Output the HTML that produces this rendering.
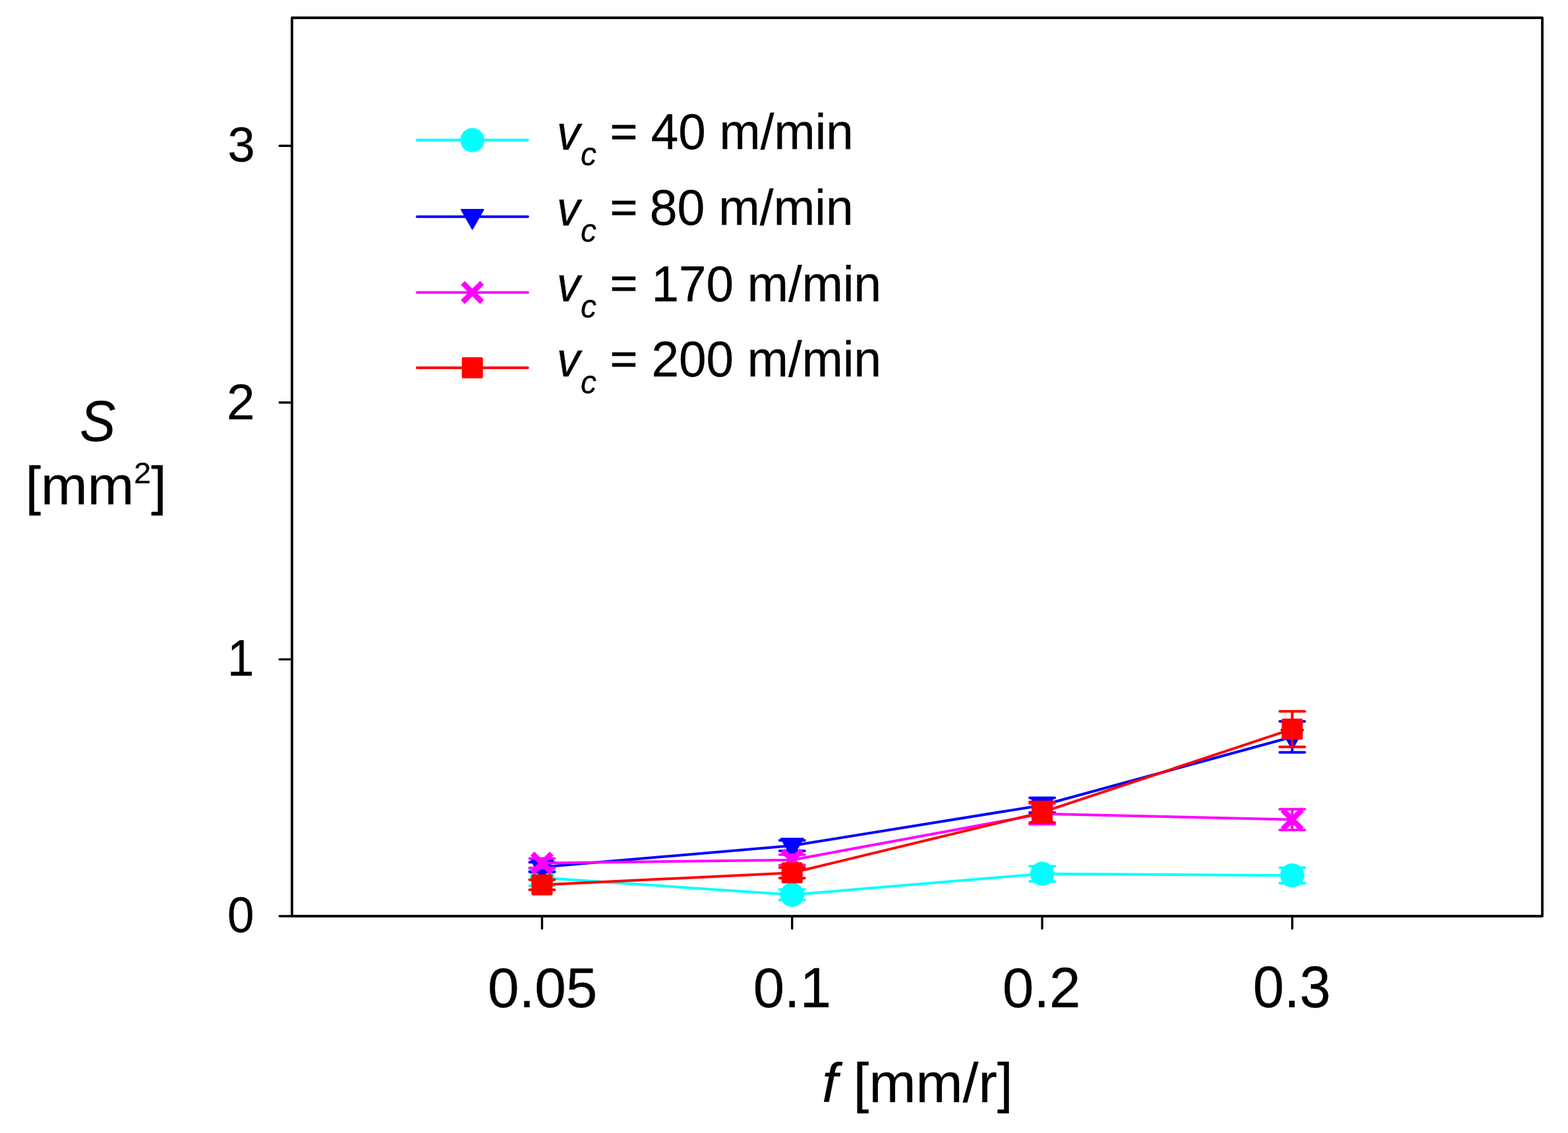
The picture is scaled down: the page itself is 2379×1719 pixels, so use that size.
<!DOCTYPE html>
<html><head><meta charset="utf-8"><title>S vs f</title>
<style>html,body{margin:0;padding:0;background:#fff;} svg{display:block;} text{font-family:'Liberation Sans', Arial, sans-serif;fill:#000;stroke:#000;stroke-width:0.3px;}</style>
</head><body>
<svg width="2379" height="1719" viewBox="0 0 2379 1719">
<rect width="2379" height="1719" fill="#fff"/>
<rect x="443" y="27" width="1897" height="1363" fill="none" stroke="#000" stroke-width="3.8" stroke-linejoin="round"/>
<line x1="424.2" y1="1390.0" x2="443" y2="1390.0" stroke="#000" stroke-width="3.4" stroke-linecap="round"/>
<text transform="translate(345.10,1413.78) scale(0.9719,1.0046)" font-size="75">0</text>
<line x1="424.2" y1="1000.4" x2="443" y2="1000.4" stroke="#000" stroke-width="3.4" stroke-linecap="round"/>
<text transform="translate(345.10,1024.64) scale(0.9719,1.0331)" font-size="75">1</text>
<line x1="424.2" y1="610.8" x2="443" y2="610.8" stroke="#000" stroke-width="3.4" stroke-linecap="round"/>
<text transform="translate(343.99,635.96) scale(1.0244,1.0098)" font-size="75">2</text>
<line x1="424.2" y1="221.2" x2="443" y2="221.2" stroke="#000" stroke-width="3.4" stroke-linecap="round"/>
<text transform="translate(345.49,244.89) scale(0.9878,1.0002)" font-size="75">3</text>
<line x1="822.4" y1="1390" x2="822.4" y2="1408.8" stroke="#000" stroke-width="3.4" stroke-linecap="round"/>
<text transform="translate(739.97,1527.91) scale(0.9941,0.9962)" font-size="86">0.05</text>
<line x1="1201.8" y1="1390" x2="1201.8" y2="1408.8" stroke="#000" stroke-width="3.4" stroke-linecap="round"/>
<text transform="translate(1142.65,1527.95) scale(0.9915,0.9967)" font-size="86">0.1</text>
<line x1="1581.2" y1="1390" x2="1581.2" y2="1408.8" stroke="#000" stroke-width="3.4" stroke-linecap="round"/>
<text transform="translate(1521.01,1527.83) scale(0.9915,0.9994)" font-size="86">0.2</text>
<line x1="1960.6" y1="1390" x2="1960.6" y2="1408.8" stroke="#000" stroke-width="3.4" stroke-linecap="round"/>
<text transform="translate(1901.03,1527.76) scale(0.9877,1.0259)" font-size="86">0.3</text>
<text transform="translate(120.90,668.90) scale(0.9464,1.0080)" font-size="86" font-style="italic">S</text>
<text transform="translate(38.44,764.92) scale(1.0098,0.9673)" font-size="84">[mm<tspan font-size="46" dy="-33">2</tspan><tspan dy="33">]</tspan></text>
<text transform="translate(1247.27,1672.36) scale(1.0169,0.9874)" font-size="84"><tspan font-style="italic">f</tspan> [mm/r]</text>
<polyline points="822.4,1331.7 1201.8,1357.6 1581.2,1325.7 1960.6,1328.2" fill="none" stroke="#00FFFF" stroke-width="4.0" stroke-linejoin="round"/>
<path d="M822.4,1319.7V1343.7M803.4,1319.7H841.4M803.4,1343.7H841.4" stroke="#00FFFF" stroke-width="4" stroke-linecap="round" fill="none"/>
<path d="M1201.8,1349.6V1365.6M1182.8,1349.6H1220.8M1182.8,1365.6H1220.8" stroke="#00FFFF" stroke-width="4" stroke-linecap="round" fill="none"/>
<path d="M1581.2,1314.2V1337.2M1562.2,1314.2H1600.2M1562.2,1337.2H1600.2" stroke="#00FFFF" stroke-width="4" stroke-linecap="round" fill="none"/>
<path d="M1960.6,1316.4V1340.0M1941.6,1316.4H1979.6M1941.6,1340.0H1979.6" stroke="#00FFFF" stroke-width="4" stroke-linecap="round" fill="none"/>
<circle cx="822.4" cy="1331.7" r="18.3" fill="#00FFFF"/>
<circle cx="1201.8" cy="1357.6" r="18.3" fill="#00FFFF"/>
<circle cx="1581.2" cy="1325.7" r="18.3" fill="#00FFFF"/>
<circle cx="1960.6" cy="1328.2" r="18.3" fill="#00FFFF"/>
<polyline points="822.4,1315.5 1201.8,1283.0 1581.2,1221.7 1960.6,1118.0" fill="none" stroke="#0000FF" stroke-width="4.0" stroke-linejoin="round"/>
<path d="M822.4,1308.3V1322.7M803.4,1308.3H841.4M803.4,1322.7H841.4" stroke="#0000FF" stroke-width="4" stroke-linecap="round" fill="none"/>
<path d="M1201.8,1275.1V1290.9M1182.8,1275.1H1220.8M1182.8,1290.9H1220.8" stroke="#0000FF" stroke-width="4" stroke-linecap="round" fill="none"/>
<path d="M1581.2,1210.4V1233.0M1562.2,1210.4H1600.2M1562.2,1233.0H1600.2" stroke="#0000FF" stroke-width="4" stroke-linecap="round" fill="none"/>
<path d="M1960.6,1094.4V1141.6M1941.6,1094.4H1979.6M1941.6,1141.6H1979.6" stroke="#0000FF" stroke-width="4" stroke-linecap="round" fill="none"/>
<polygon points="805.6,1304.6 839.2,1304.6 822.4,1334.3" fill="#0000FF" stroke="#0000FF" stroke-width="2.0" stroke-linejoin="round"/>
<polygon points="1185.0,1272.1 1218.6,1272.1 1201.8,1301.8" fill="#0000FF" stroke="#0000FF" stroke-width="2.0" stroke-linejoin="round"/>
<polygon points="1564.3,1210.8 1598.0,1210.8 1581.2,1240.5" fill="#0000FF" stroke="#0000FF" stroke-width="2.0" stroke-linejoin="round"/>
<polygon points="1943.8,1107.1 1977.4,1107.1 1960.6,1136.8" fill="#0000FF" stroke="#0000FF" stroke-width="2.0" stroke-linejoin="round"/>
<polyline points="822.4,1309.6 1201.8,1304.7 1581.2,1234.7 1960.6,1243.5" fill="none" stroke="#FF00FF" stroke-width="4.0" stroke-linejoin="round"/>
<path d="M822.4,1302.5V1316.7M803.4,1302.5H841.4M803.4,1316.7H841.4" stroke="#FF00FF" stroke-width="4" stroke-linecap="round" fill="none"/>
<path d="M1201.8,1296.8V1312.6M1182.8,1296.8H1220.8M1182.8,1312.6H1220.8" stroke="#FF00FF" stroke-width="4" stroke-linecap="round" fill="none"/>
<path d="M1581.2,1218.9V1250.5M1562.2,1218.9H1600.2M1562.2,1250.5H1600.2" stroke="#FF00FF" stroke-width="4" stroke-linecap="round" fill="none"/>
<path d="M1960.6,1227.7V1259.3M1941.6,1227.7H1979.6M1941.6,1259.3H1979.6" stroke="#FF00FF" stroke-width="4" stroke-linecap="round" fill="none"/>
<path d="M807.8,1295.0L837.0,1324.2M807.8,1324.2L837.0,1295.0" stroke="#FF00FF" stroke-width="8.4" fill="none"/>
<path d="M1187.2,1290.1L1216.4,1319.3M1187.2,1319.3L1216.4,1290.1" stroke="#FF00FF" stroke-width="8.4" fill="none"/>
<path d="M1566.6,1220.1L1595.8,1249.3M1566.6,1249.3L1595.8,1220.1" stroke="#FF00FF" stroke-width="8.4" fill="none"/>
<path d="M1946.0,1228.9L1975.2,1258.1M1946.0,1258.1L1975.2,1228.9" stroke="#FF00FF" stroke-width="8.4" fill="none"/>
<polyline points="822.4,1342.4 1201.8,1324.3 1581.2,1232.4 1960.6,1106.2" fill="none" stroke="#FF0000" stroke-width="4.0" stroke-linejoin="round"/>
<path d="M822.4,1334.7V1350.1M803.4,1334.7H841.4M803.4,1350.1H841.4" stroke="#FF0000" stroke-width="4" stroke-linecap="round" fill="none"/>
<path d="M1201.8,1316.3V1332.3M1182.8,1316.3H1220.8M1182.8,1332.3H1220.8" stroke="#FF0000" stroke-width="4" stroke-linecap="round" fill="none"/>
<path d="M1581.2,1216.8V1248.0M1562.2,1216.8H1600.2M1562.2,1248.0H1600.2" stroke="#FF0000" stroke-width="4" stroke-linecap="round" fill="none"/>
<path d="M1960.6,1079.2V1133.2M1941.6,1079.2H1979.6M1941.6,1133.2H1979.6" stroke="#FF0000" stroke-width="4" stroke-linecap="round" fill="none"/>
<rect x="807.1" y="1327.1" width="30.6" height="30.6" rx="1.5" fill="#FF0000" stroke="#FF0000" stroke-width="1.4" stroke-linejoin="round"/>
<rect x="1186.5" y="1309.0" width="30.6" height="30.6" rx="1.5" fill="#FF0000" stroke="#FF0000" stroke-width="1.4" stroke-linejoin="round"/>
<rect x="1565.9" y="1217.1" width="30.6" height="30.6" rx="1.5" fill="#FF0000" stroke="#FF0000" stroke-width="1.4" stroke-linejoin="round"/>
<rect x="1945.3" y="1090.9" width="30.6" height="30.6" rx="1.5" fill="#FF0000" stroke="#FF0000" stroke-width="1.4" stroke-linejoin="round"/>
<line x1="632.8" y1="212.5" x2="800.8" y2="212.5" stroke="#00FFFF" stroke-width="4.0" stroke-linecap="round"/>
<circle cx="716.7" cy="212.5" r="18.3" fill="#00FFFF"/>
<text transform="translate(844.66,226.86) scale(0.9456,0.9772)" font-size="75" font-style="italic">v</text>
<text transform="translate(881.11,251.40) scale(0.9646,0.9850)" font-size="50" font-style="italic">c</text>
<text transform="translate(925.67,221.90) scale(0.9456,0.8762)" font-size="75" style="stroke-width:1.1px">=</text>
<text transform="translate(987.70,226.06) scale(0.9959,1.0152)" font-size="75">40 m/min</text>
<line x1="632.8" y1="328.8" x2="800.8" y2="328.8" stroke="#0000FF" stroke-width="4.0" stroke-linecap="round"/>
<polygon points="699.9,317.9 733.5,317.9 716.7,347.6" fill="#0000FF" stroke="#0000FF" stroke-width="2.0" stroke-linejoin="round"/>
<text transform="translate(844.66,341.65) scale(0.9456,0.9772)" font-size="75" font-style="italic">v</text>
<text transform="translate(881.11,367.19) scale(0.9646,0.9850)" font-size="50" font-style="italic">c</text>
<text transform="translate(925.67,336.69) scale(0.9456,0.8762)" font-size="75" style="stroke-width:1.1px">=</text>
<text transform="translate(985.81,340.84) scale(1.0021,1.0140)" font-size="75">80 m/min</text>
<line x1="632.8" y1="443.7" x2="800.8" y2="443.7" stroke="#FF00FF" stroke-width="4.0" stroke-linecap="round"/>
<path d="M702.1,429.1L731.3,458.3M702.1,458.3L731.3,429.1" stroke="#FF00FF" stroke-width="8.4" fill="none"/>
<text transform="translate(844.66,457.44) scale(0.9456,0.9772)" font-size="75" font-style="italic">v</text>
<text transform="translate(881.11,481.99) scale(0.9646,0.9850)" font-size="50" font-style="italic">c</text>
<text transform="translate(925.67,452.47) scale(0.9456,0.8762)" font-size="75" style="stroke-width:1.1px">=</text>
<text transform="translate(988.46,456.69) scale(0.9959,1.0160)" font-size="75">170 m/min</text>
<line x1="632.8" y1="558.1" x2="800.8" y2="558.1" stroke="#FF0000" stroke-width="4.0" stroke-linecap="round"/>
<rect x="701.4" y="542.8" width="30.6" height="30.6" rx="1.5" fill="#FF0000" stroke="#FF0000" stroke-width="1.4" stroke-linejoin="round"/>
<text transform="translate(844.66,571.26) scale(0.9456,0.9772)" font-size="75" font-style="italic">v</text>
<text transform="translate(881.11,596.79) scale(0.9646,0.9850)" font-size="50" font-style="italic">c</text>
<text transform="translate(925.67,567.32) scale(0.9456,0.8762)" font-size="75" style="stroke-width:1.1px">=</text>
<text transform="translate(988.44,571.46) scale(0.9959,1.0149)" font-size="75">200 m/min</text>
</svg>
</body></html>
